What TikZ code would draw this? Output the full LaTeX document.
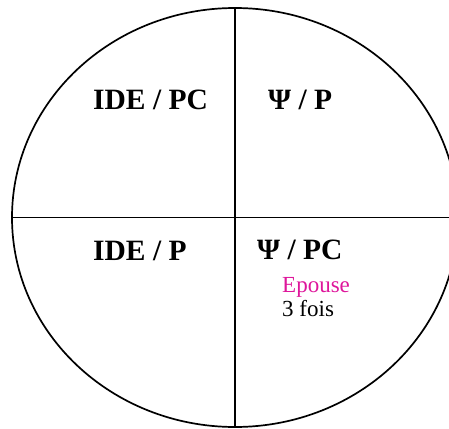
\documentclass[tikz,border=0pt]{standalone}
\usepackage{fontspec}
\setmainfont{Liberation Serif}
\definecolor{epousepink}{RGB}{222,22,155}

\begin{document}
\begin{tikzpicture}[x=1pt,y=-1pt,
  quad/.style={anchor=base west,inner sep=0pt,font=\fontsize{29.5}{31}\selectfont\bfseries},
  note/.style={anchor=base west,inner sep=0pt,font=\fontsize{23}{25}\selectfont},
  rim/.style={line width=1.7pt}]
  \useasboundingbox (0,0) rectangle (449,428);
  \clip (0,0) rectangle (449,428);

  \coordinate (c) at (235,217.5);
  \draw[rim] (c) ellipse [x radius=223,y radius=209.5];
  \draw[rim] (235,8) -- (235,427);
  \draw[rim] (12,217.5) -- (449,217.5);

  \node[quad] (idepc) at (93,109) {IDE / PC};
  \node[quad] (psip) at (268,109) {Ψ / P};
  \node[quad] (idep) at (93,260) {IDE / P};
  \node[quad] (psipc) at (257,259) {Ψ / PC};
  \node[note,text=epousepink] (epouse) at (282,292) {Epouse};
  \node[note] (fois) at (282,316) {3 fois};
\end{tikzpicture}
\end{document}
